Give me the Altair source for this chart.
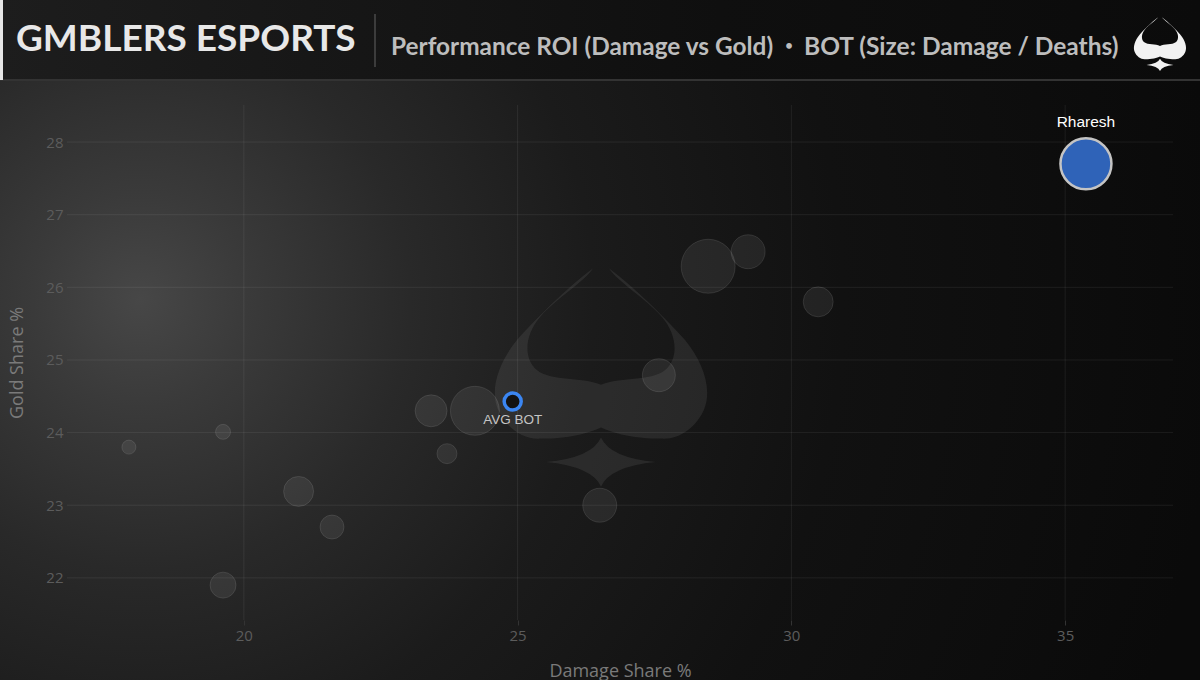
import altair as alt
import pandas as pd

# ---------------- data ----------------
players = ["Rharesh", "BOT 2", "BOT 3", "BOT 4", "BOT 5", "BOT 6", "BOT 7",
           "BOT 8", "BOT 9", "BOT 10", "BOT 11", "BOT 12", "BOT 13", "BOT 14"]
damage_share = [35.38, 28.48, 29.21, 30.49, 27.58, 24.22, 23.42,
                23.71, 26.50, 21.00, 21.61, 19.62, 19.62, 17.90]
gold_share = [27.70, 26.29, 26.49, 25.80, 24.79, 24.30, 24.30,
              23.71, 23.00, 23.19, 22.70, 21.90, 24.01, 23.80]
damage_per_death = [1020, 1080, 680, 600, 660, 980, 640,
                    400, 680, 600, 480, 520, 300, 280]

focus_player = "Rharesh"
avg_label = ["AVG BOT"]
x_ticks = [20, 25, 30, 35]
y_ticks = [22, 23, 24, 25, 26, 27, 28]

title_text = "GMBLERS ESPORTS"
subtitle_parts = ["Performance ROI (Damage vs Gold)", "\u2022", "BOT (Size: Damage / Deaths)"]

df = pd.DataFrame({"player": players, "damage": damage_share,
                   "gold": gold_share, "dpd": damage_per_death})

# ---------------- layout ----------------
W, H = 1106, 515
PL, PT, PR, PB = 67, 105, 27, 60

xs = alt.Scale(domain=[16.77, 36.97], nice=False, zero=False)
ys = alt.Scale(domain=[21.42, 28.51], nice=False, zero=False)
ss = alt.Scale(type="pow", exponent=2, domain=[0, 1200], range=[0, 3600])

one = alt.Chart(pd.DataFrame({"a": [0]}))

# background radial glow
bg = one.mark_rect(
    fill=alt.Gradient(
        gradient="radial",
        stops=[alt.GradientStop(color="#474747", offset=0),
               alt.GradientStop(color="#3a3a3a", offset=0.1),
               alt.GradientStop(color="#292929", offset=0.25),
               alt.GradientStop(color="#1b1b1b", offset=0.42),
               alt.GradientStop(color="#111111", offset=0.65),
               alt.GradientStop(color="#0a0a0a", offset=1)],
        x1=0.117, y1=0.433, r1=0, x2=0.117, y2=0.433, r2=0.9),
).encode(x=alt.value(-PL), x2=alt.value(1200 - PL),
         y=alt.value(80 - PT), y2=alt.value(680 - PT))

# header band
header = one.mark_rect(
    fill=alt.Gradient(
        gradient="linear",
        stops=[alt.GradientStop(color="#1d1d1d", offset=0),
               alt.GradientStop(color="#0f0f0f", offset=0.6),
               alt.GradientStop(color="#0b0b0b", offset=1)],
        x1=0, y1=0, x2=1, y2=0),
).encode(x=alt.value(-PL), x2=alt.value(1200 - PL),
         y=alt.value(-PT), y2=alt.value(80 - PT))

header_border = one.mark_rule(color="#333333", strokeWidth=2).encode(
    x=alt.value(-PL), x2=alt.value(1200 - PL), y=alt.value(80 - PT))

left_bar = one.mark_rect(color="#e6e6e6").encode(
    x=alt.value(-PL), x2=alt.value(3 - PL), y=alt.value(-PT), y2=alt.value(80 - PT))

divider = one.mark_rule(color="#4a4a4a", strokeWidth=1.5).encode(
    x=alt.value(375 - PL), y=alt.value(14 - PT), y2=alt.value(67 - PT))

title = one.mark_text(align="left", baseline="alphabetic", font="Lato",
                      fontWeight="bold", fontSize=37, color="#e8e8e8").encode(
    x=alt.value(16 - PL), y=alt.value(51 - PT), text=alt.value(title_text))

sub1 = one.mark_text(align="left", baseline="alphabetic", font="Lato",
                     fontWeight="bold", fontSize=24.4, color="#bdbdbd").encode(
    x=alt.value(391 - PL), y=alt.value(55 - PT), text=alt.value(subtitle_parts[0]))
sub_dot = one.mark_text(align="center", baseline="alphabetic", font="Lato",
                        fontWeight="bold", fontSize=13, color="#bdbdbd").encode(
    x=alt.value(789 - PL), y=alt.value(50 - PT), text=alt.value(subtitle_parts[1]))
sub2 = one.mark_text(align="left", baseline="alphabetic", font="Lato",
                     fontWeight="bold", fontSize=24.5, color="#bdbdbd").encode(
    x=alt.value(804 - PL), y=alt.value(55 - PT), text=alt.value(subtitle_parts[2]))

spade_path = (
    "M -0.07 -0.97 "
    "C -0.3 -0.8 -0.6 -0.5 -0.75 -0.33 "
    "C -0.9 -0.15 -1.0 0.1 -0.92 0.29 "
    "C -0.85 0.45 -0.7 0.56 -0.54 0.55 "
    "C -0.3 0.55 -0.1 0.5 0 0.45 "
    "C 0.1 0.5 0.3 0.55 0.54 0.55 "
    "C 0.7 0.56 0.85 0.45 0.92 0.29 "
    "C 1.0 0.1 0.9 -0.15 0.75 -0.33 "
    "C 0.6 -0.5 0.3 -0.8 0.07 -0.97 "
    "C 0.15 -0.85 0.4 -0.7 0.54 -0.54 "
    "C 0.68 -0.38 0.7 -0.17 0.57 -0.06 "
    "C 0.45 0.04 0.15 0.0 0 0.07 "
    "C -0.15 0.0 -0.45 0.04 -0.57 -0.06 "
    "C -0.7 -0.17 -0.68 -0.38 -0.54 -0.54 "
    "C -0.4 -0.7 -0.15 -0.85 -0.07 -0.97 Z "
    "M -0.49 0.76 Q -0.08 0.72 0 0.54 Q 0.08 0.72 0.49 0.76 "
    "Q 0.08 0.8 0 0.98 Q -0.08 0.8 -0.49 0.76 Z"
)

logo = one.mark_point(shape=spade_path, filled=True, fill="#f2f2f2",
                      fillOpacity=1, strokeWidth=0, size=55 * 55).encode(
    x=alt.value(1160 - PL), y=alt.value(44 - PT))

watermark = one.mark_point(shape=spade_path, filled=True, fill="#ffffff",
                           fillOpacity=0.075, strokeWidth=0, size=224 * 224).encode(
    x=alt.value(601 - PL), y=alt.value(377 - PT))

# grid lines through the scales
vgrid = alt.Chart(pd.DataFrame({"t": x_ticks})).mark_rule(
    color="#ffffff", strokeOpacity=0.07, strokeWidth=1).encode(
    x=alt.X("t:Q", scale=xs), y=alt.value(0), y2=alt.value(H))
hgrid = alt.Chart(pd.DataFrame({"t": y_ticks})).mark_rule(
    color="#ffffff", strokeOpacity=0.07, strokeWidth=1).encode(
    y=alt.Y("t:Q", scale=ys), x=alt.value(0), x2=alt.value(W))

base = alt.Chart(df)
enc_x = alt.X("damage:Q", scale=xs, title="Damage Share %",
              axis=alt.Axis(values=x_ticks, format="d", grid=False, domain=False,
                            tickSize=5, tickColor="#333333", labelPadding=3,
                            titlePadding=19, zindex=1))
enc_y = alt.Y("gold:Q", scale=ys, title="Gold Share %",
              axis=alt.Axis(values=y_ticks, format="d", grid=False, domain=False,
                            ticks=False, labelPadding=4, titlePadding=19, zindex=1))
enc_s = alt.Size("dpd:Q", scale=ss, legend=None)

others = base.transform_filter(alt.datum.player != focus_player).mark_circle(
    fill="#ffffff", fillOpacity=0.075, stroke="#ffffff", strokeOpacity=0.1,
    strokeWidth=1, opacity=1).encode(x=enc_x, y=enc_y, size=enc_s)

focus = base.transform_filter(alt.datum.player == focus_player).mark_circle(
    fill="#2f63b8", fillOpacity=1, stroke="#c4c4c4", strokeWidth=2.5,
    opacity=1).encode(x=enc_x, y=enc_y, size=enc_s)

focus_label = base.transform_filter(alt.datum.player == focus_player).mark_text(
    dy=-42, font="Liberation Sans", fontSize=15.5, color="#ffffff").encode(
    x=alt.X("damage:Q", scale=xs), y=alt.Y("gold:Q", scale=ys), text="player:N")

avg = base.transform_aggregate(
    mx="mean(damage)", my="mean(gold)").transform_calculate(lab=f"'{avg_label[0]}'")
avg_pt = avg.mark_circle(fill="#131313", fillOpacity=1, stroke="#3b86f2",
                         strokeWidth=3.5, size=290, opacity=1).encode(
    x=alt.X("mx:Q", scale=xs), y=alt.Y("my:Q", scale=ys))
avg_txt = avg.mark_text(dy=18, font="Liberation Sans", fontSize=13.5,
                        color="#c4c4c4").encode(
    x=alt.X("mx:Q", scale=xs), y=alt.Y("my:Q", scale=ys), text="lab:N")

chart = alt.layer(
    bg, header, header_border, left_bar, divider, title, sub1, sub_dot, sub2, logo,
    vgrid, hgrid, watermark, others, focus, focus_label, avg_pt, avg_txt
).properties(
    width=W, height=H,
    autosize=alt.AutoSizeParams(type="none"),
    padding={"left": PL, "top": PT, "right": PR, "bottom": PB},
    background="#0e0e0e",
).configure_view(stroke=None).configure_axis(
    labelFont="Open Sans", labelFontSize=15, labelColor="#5c5c5c",
    titleFont="Open Sans", titleFontSize=18, titleFontWeight="normal",
    titleColor="#7a7a7a",
)

chart.save("out.html", embed_options={"renderer": "svg", "actions": False})
